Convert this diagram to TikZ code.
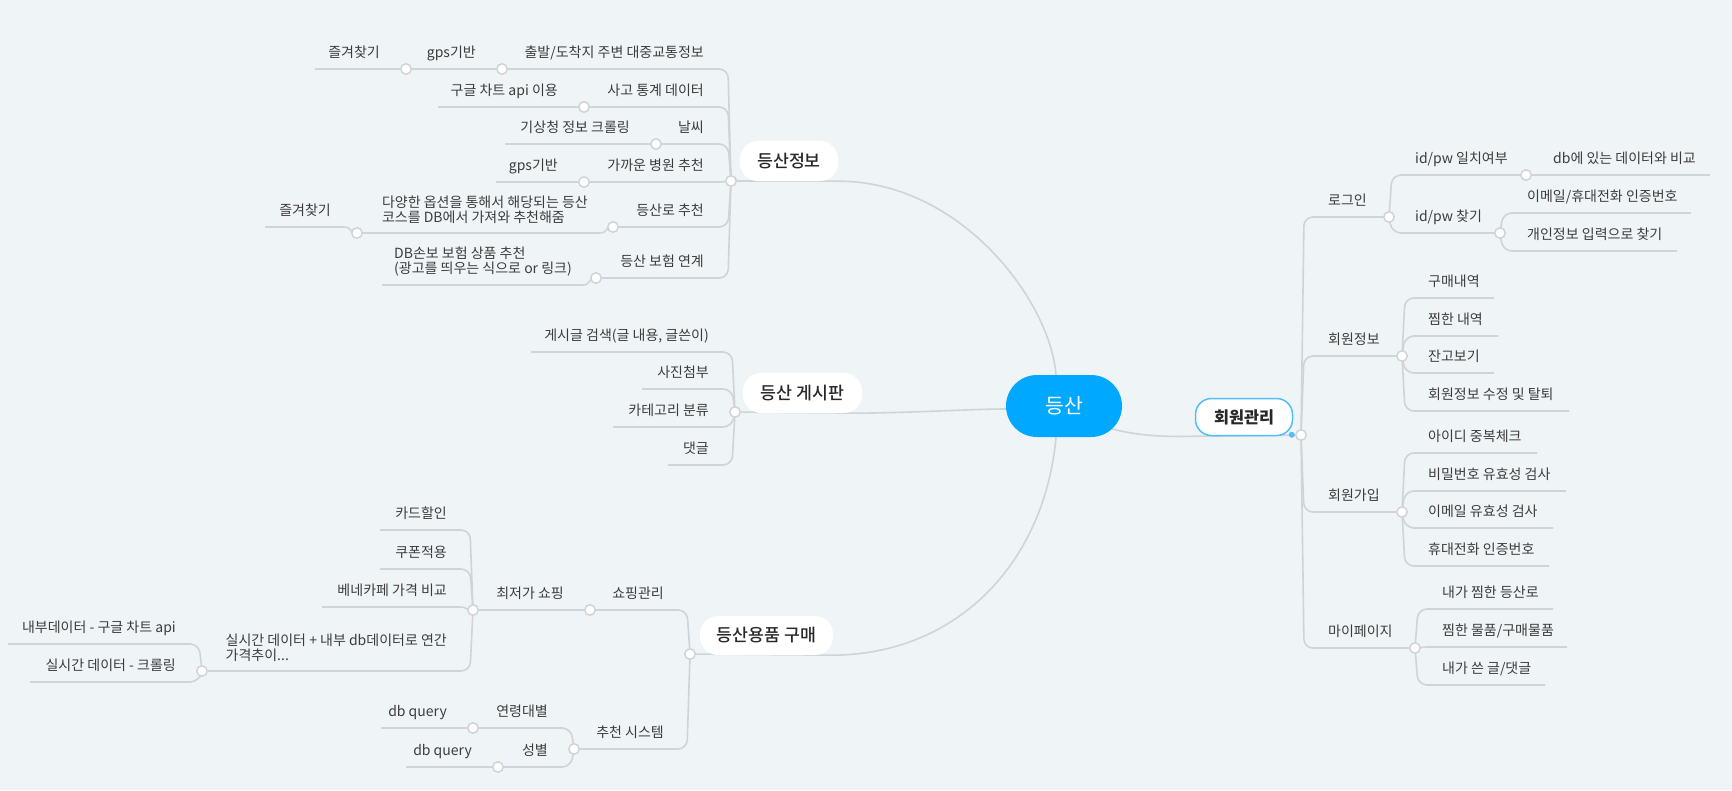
\documentclass[tikz,border=0pt]{standalone}
\usepackage{fontspec}
\setmainfont{Noto Sans CJK KR}
\newfontfamily\medfont{Noto Sans CJK KR Medium}
\usetikzlibrary{calc}
\definecolor{bgc}{RGB}{239,244,247}
\definecolor{linec}{RGB}{207,212,216}
\definecolor{txtc}{RGB}{60,60,60}
\definecolor{headc}{RGB}{40,40,40}
\definecolor{rootc}{RGB}{0,168,255}
\definecolor{hlc}{RGB}{80,190,247}
\pgfdeclarelayer{back}
\pgfdeclarelayer{bg}
\pgfsetlayers{back,bg,main}
\tikzset{
  lnk/.style={draw=linec, line width=1.6pt},
  conn/.style={lnk, rounded corners=9pt},
  knob/.style={circle, draw=linec, line width=1.5pt, fill=white, minimum size=10.5pt, inner sep=0pt},
  lt/.style={anchor=base east, inner sep=0pt, text=txtc, font=\fontsize{14}{15}\selectfont},
  rt/.style={anchor=base west, inner sep=0pt, text=txtc, font=\fontsize{14}{15}\selectfont},
  branch/.style={fill=white, rounded corners=18pt, inner sep=0pt, text=headc, font=\medfont\fontsize{17.3}{20}\selectfont},
  rootnode/.style={fill=rootc, rounded corners=31pt, inner sep=0pt, minimum width=116pt, minimum height=62pt, text=white, font=\fontsize{20.5}{24}\selectfont}
}
\newcommand\lconn[2]{\draw[conn] (#1.center) -- ([xshift=-3pt]#1.center |- #2) -- (#2);}
\newcommand\rconn[2]{\draw[conn] (#1.center) -- ([xshift=3pt]#1.center |- #2) -- (#2);}
\newcommand\lconnS[2]{\draw[lnk] (#1.center) .. controls ($(#1.center)+(-9,0)$) and ($(#1.center |- #2)+(-4,0)$) .. ($(#1.center |- #2)+(-14,0)$) -- (#2);}
\newcommand\straight[2]{\draw[lnk] (#1) -- (#2);}
\begin{document}
\begin{tikzpicture}[x=1pt,y=-1pt]
\begin{pgfonlayer}{back}
\fill[bgc] (0,0) rectangle (1732,790);
\end{pgfonlayer}
\useasboundingbox (0,0) rectangle (1732,790);

% root and branches
\node[rootnode] (root) at (1064,406) {등산};
\node[branch, minimum width=98pt, minimum height=40pt] (An) at (789,161) {등산정보};
\node[knob] (A) at (731,181) {};
\node[branch, minimum width=119pt, minimum height=40pt] (Bn) at (802.5,393) {등산 게시판};
\node[knob] (B) at (735,412) {};
\node[branch, minimum width=133pt, minimum height=39pt] (Cn) at (766.5,635.5) {등산용품 구매};
\node[knob] (C) at (690,654) {};
\node[branch, draw=hlc, line width=1.5pt, rounded corners=16pt, minimum width=97pt, minimum height=37pt, font=\bfseries\fontsize{16.3}{19}\selectfont] (Dn) at (1244,417) {회원관리};
\fill[hlc] ([xshift=-1.5pt,yshift=1.5pt]Dn.south east) circle[radius=3pt];
\node[knob] (D) at (1301,435) {};

% 등산정보
\node[lt] (A1) at (704,57) {출발/도착지 주변 대중교통정보};
\node[knob] (A1k) at (502,69) {};
\node[lt] (A1a) at (476,57) {gps기반};
\node[knob] (A1ak) at (406,69) {};
\node[lt] (A1a1) at (380,57) {즐겨찾기};
\coordinate (A1a1e) at (315,69);
\node[lt] (A2) at (704,95) {사고 통계 데이터};
\node[knob] (A2k) at (584,107) {};
\node[lt] (A2a) at (558,95) {구글 차트 api 이용};
\coordinate (A2ae) at (438,107);
\node[lt] (A3) at (704,132) {날씨};
\node[knob] (A3k) at (656,144) {};
\node[lt] (A3a) at (630,132) {기상청 정보 크롤링};
\coordinate (A3ae) at (505,144);
\node[lt] (A4) at (704,170) {가까운 병원 추천};
\node[knob] (A4k) at (584,182) {};
\node[lt] (A4a) at (558,170) {gps기반};
\coordinate (A4ae) at (496,182);
\node[lt] (A5) at (704,215) {등산로 추천};
\node[knob] (A5k) at (613,227) {};
\node[lt, align=left] (A5a) at (588,222) {다양한 옵션을 통해서 해당되는 등산\\코스를 DB에서 가져와 추천해줌};
\node[knob] (A5ak) at (357,233) {};
\node[lt] (A5a1) at (331,215) {즐겨찾기};
\coordinate (A5a1e) at (265,227);
\node[lt] (A6) at (704,266) {등산 보험 연계};
\node[knob] (A6k) at (596,278) {};
\node[lt, align=left] (A6a) at (572,273) {DB손보 보험 상품 추천\\(광고를 띄우는 식으로 or 링크)};
\coordinate (A6ae) at (382,285);

% 등산 게시판
\node[lt] (B1) at (709,340) {게시글 검색(글 내용, 글쓴이)};
\coordinate (B1e) at (531,352);
\node[lt] (B2) at (709,377) {사진첨부};
\coordinate (B2e) at (642,389);
\node[lt] (B3) at (709,415) {카테고리 분류};
\coordinate (B3e) at (613,427);
\node[lt] (B4) at (709,453) {댓글};
\coordinate (B4e) at (668,465);

% 등산용품 구매
\node[lt] (C1) at (664,598) {쇼핑관리};
\node[knob] (C1k) at (590,610) {};
\node[lt] (C1a) at (564,598) {최저가 쇼핑};
\node[knob] (C1ak) at (473,610) {};
\node[lt] (C1a1) at (447,518) {카드할인};
\coordinate (C1a1e) at (380,530);
\node[lt] (C1a2) at (447,557) {쿠폰적용};
\coordinate (C1a2e) at (380,569);
\node[lt] (C1a3) at (447,595) {베네카페 가격 비교};
\coordinate (C1a3e) at (322,607);
\node[lt, align=left] (C1a4) at (447,660) {실시간 데이터 + 내부 db데이터로 연간\\가격추이...};
\node[knob] (C1a4k) at (202,671) {};
\node[lt] (C1a4a) at (176,632) {내부데이터 - 구글 차트 api};
\coordinate (C1a4ae) at (8,644);
\node[lt] (C1a4b) at (176,670) {실시간 데이터 - 크롤링};
\coordinate (C1a4be) at (30,682);
\node[lt] (C2) at (664,737) {추천 시스템};
\node[knob] (C2k) at (574,749) {};
\node[lt] (C2a) at (548,716) {연령대별};
\node[knob] (C2ak) at (473,728) {};
\node[lt] (C2a1) at (447,716) {db query};
\coordinate (C2a1e) at (381,728);
\node[lt] (C2b) at (548,755) {성별};
\node[knob] (C2bk) at (498,767) {};
\node[lt] (C2b1) at (472,755) {db query};
\coordinate (C2b1e) at (406,767);

% 회원관리
\node[rt] (D1) at (1328,205) {로그인};
\node[knob] (D1k) at (1389,217) {};
\node[rt] (D1a) at (1415,163) {id/pw 일치여부};
\node[knob] (D1ak) at (1526,175) {};
\node[rt] (D1a1) at (1553,163) {db에 있는 데이터와 비교};
\coordinate (D1a1e) at (1710,175);
\node[rt] (D1b) at (1415,221) {id/pw 찾기};
\node[knob] (D1bk) at (1500,233) {};
\node[rt] (D1b1) at (1527,201) {이메일/휴대전화 인증번호};
\coordinate (D1b1e) at (1691,213);
\node[rt] (D1b2) at (1527,239) {개인정보 입력으로 찾기};
\coordinate (D1b2e) at (1677,251);
\node[rt] (D2) at (1328,344) {회원정보};
\node[knob] (D2k) at (1402,356) {};
\node[rt] (D2a) at (1428,286) {구매내역};
\coordinate (D2ae) at (1494,298);
\node[rt] (D2b) at (1428,324) {찜한 내역};
\coordinate (D2be) at (1498,336);
\node[rt] (D2c) at (1428,361) {잔고보기};
\coordinate (D2ce) at (1494,373);
\node[rt] (D2d) at (1428,399) {회원정보 수정 및 탈퇴};
\coordinate (D2de) at (1569,411);
\node[rt] (D3) at (1328,500) {회원가입};
\node[knob] (D3k) at (1402,512) {};
\node[rt] (D3a) at (1428,441) {아이디 중복체크};
\coordinate (D3ae) at (1537,453);
\node[rt] (D3b) at (1428,479) {비밀번호 유효성 검사};
\coordinate (D3be) at (1566,491);
\node[rt] (D3c) at (1428,516) {이메일 유효성 검사};
\coordinate (D3ce) at (1553,528);
\node[rt] (D3d) at (1428,554) {휴대전화 인증번호};
\coordinate (D3de) at (1549,566);
\node[rt] (D4) at (1328,636) {마이페이지};
\node[knob] (D4k) at (1415,648) {};
\node[rt] (D4a) at (1442,597) {내가 찜한 등산로};
\coordinate (D4ae) at (1553,609);
\node[rt] (D4b) at (1442,635) {찜한 물품/구매물품};
\coordinate (D4be) at (1567,647);
\node[rt] (D4c) at (1442,673) {내가 쓴 글/댓글};
\coordinate (D4ce) at (1545,685);

\begin{pgfonlayer}{bg}
% root to branches
\draw[lnk] (A) -- (An.south east) .. controls (960,181) and (1050,300) .. ([xshift=-8pt]root.north);
\draw[lnk] (B) -- (Bn.south east) .. controls (930,412) and (975,409) .. ([yshift=-3pt]root.west);
\draw[lnk] (C) -- (Cn.south east) .. controls (960,654) and (1045,560) .. ([xshift=-8pt]root.south);
\draw[lnk] (D) -- (Dn.south west) .. controls (1165,437) and (1140,436) .. ($(root.east)+(-10,23)$);
% 등산정보
\lconn{A}{A1k} \lconn{A}{A2k} \lconn{A}{A3k} \lconn{A}{A4k} \lconn{A}{A5k} \lconn{A}{A6k}
\straight{A1k}{A1ak} \straight{A1ak}{A1a1e}
\straight{A2k}{A2ae} \straight{A3k}{A3ae} \straight{A4k}{A4ae}
\lconnS{A5k}{A5ak} \lconnS{A5ak}{A5a1e}
\lconnS{A6k}{A6ae}
% 게시판
\lconn{B}{B1e} \lconn{B}{B2e} \lconn{B}{B3e} \lconn{B}{B4e}
% 용품
\lconn{C}{C1k} \lconn{C}{C2k}
\straight{C1k}{C1ak}
\lconn{C1ak}{C1a1e} \lconn{C1ak}{C1a2e} \lconnS{C1ak}{C1a3e} \lconn{C1ak}{C1a4k}
\lconn{C1a4k}{C1a4ae} \lconn{C1a4k}{C1a4be}
\lconn{C2k}{C2ak} \lconn{C2k}{C2bk}
\straight{C2ak}{C2a1e} \straight{C2bk}{C2b1e}
% 회원관리
\rconn{D}{D1k} \rconn{D}{D2k} \rconn{D}{D3k} \rconn{D}{D4k}
\rconn{D1k}{D1ak} \rconn{D1k}{D1bk}
\straight{D1ak}{D1a1e}
\rconn{D1bk}{D1b1e} \rconn{D1bk}{D1b2e}
\rconn{D2k}{D2ae} \rconn{D2k}{D2be} \rconn{D2k}{D2ce} \rconn{D2k}{D2de}
\rconn{D3k}{D3ae} \rconn{D3k}{D3be} \rconn{D3k}{D3ce} \rconn{D3k}{D3de}
\rconn{D4k}{D4ae} \rconn{D4k}{D4be} \rconn{D4k}{D4ce}
\end{pgfonlayer}
\end{tikzpicture}
\end{document}
